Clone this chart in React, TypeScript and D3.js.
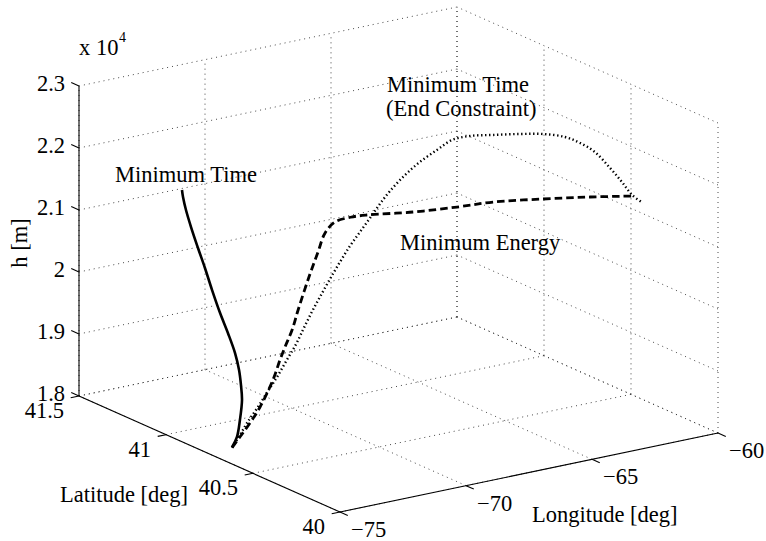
import React from "react";
import * as d3 from "d3";

// axis ticks
const lonTicks = [-75, -70, -65, -60];
const lonLabels = ["−75", "−70", "−65", "−60"];
const latTicks = [40, 40.5, 41, 41.5];
const latLabels = ["40", "40.5", "41", "41.5"];
const hTicks = [18000, 19000, 20000, 21000, 22000, 23000];
const hLabels = ["1.8", "1.9", "2", "2.1", "2.2", "2.3"];

// Minimum Time (solid)
const mtLon = [-74, -74, -74, -74, -74, -74, -74, -74, -74, -74, -74, -74, -74, -74, -74, -74];
const mtLat = [40.766, 40.737, 40.72, 40.708, 40.714, 40.725, 40.748, 40.789, 40.834, 40.88, 40.921, 40.961, 41.001, 41.03, 41.047, 41.053];
const mtH = [18000, 18206, 18501, 18838, 19073, 19301, 19546, 19819, 20084, 20397, 20702, 20975, 21263, 21501, 21689, 21795];

// Minimum Energy (dashed)
const meLon = [-74.0, -73.69, -73.29, -72.89, -72.38, -72.1, -71.9, -71.62, -71.38, -70.95, -70.59, -70.31, -69.92, -69.32, -68.82, -67.38, -66.01, -64.88, -63.32, -61.85, -60.51];
const meLat = [40.765, 40.765, 40.765, 40.765, 40.765, 40.765, 40.765, 40.765, 40.765, 40.765, 40.765, 40.765, 40.765, 40.762, 40.741, 40.684, 40.63, 40.586, 40.525, 40.467, 40.415];
const meH = [18000, 18144, 18336, 18560, 18952, 19251, 19444, 19694, 19997, 20492, 20865, 21148, 21291, 21321, 21341, 21338, 21369, 21409, 21401, 21381, 21348];

// Minimum Time (End Constraint) (dotted)
const mcLon = [-74.0, -73.74, -73.52, -73.16, -72.83, -72.54, -72.22, -71.92, -71.67, -71.41, -71.15, -70.82, -70.5, -70.17, -69.85, -69.52, -69.2, -68.87, -68.39, -67.9, -67.35, -66.86, -66.27, -65.53, -64.65, -63.9, -63.19, -62.7, -62.22, -61.73, -61.34, -61.01, -60.66];
const mcLat = [40.765, 40.757, 40.749, 40.738, 40.728, 40.718, 40.708, 40.698, 40.69, 40.682, 40.673, 40.663, 40.652, 40.642, 40.631, 40.621, 40.611, 40.6, 40.584, 40.569, 40.551, 40.535, 40.517, 40.493, 40.464, 40.44, 40.417, 40.402, 40.386, 40.37, 40.358, 40.347, 40.336];
const mcH = [18000, 18191, 18375, 18617, 18860, 19073, 19333, 19578, 19824, 20070, 20301, 20576, 20836, 21080, 21291, 21502, 21713, 21909, 22145, 22333, 22501, 22641, 22679, 22662, 22639, 22605, 22525, 22406, 22239, 21960, 21716, 21492, 21347];

const W = 766;
const H = 541;
const font = "Liberation Serif, DejaVu Serif, serif";
const fs = 22.5;

// oblique 3D view (MATLAB style)
const a = d3.scaleLinear().domain([-75, -60]).range([0, 1]);
const b = d3.scaleLinear().domain([40, 41.5]).range([0, 1]);
const c = d3.scaleLinear().domain([18000, 23000]).range([0, 1]);
const origin = [340, 512];
const uLon = [378, -79];
const uLat = [-261, -116];
const zLen = 310;

const proj = (lon: number, lat: number, h: number): [number, number] => {
  const p = a(lon), q = b(lat), r = c(h);
  return [
    origin[0] + p * uLon[0] + q * uLat[0],
    origin[1] + p * uLon[1] + q * uLat[1] - r * zLen,
  ];
};

const line = d3.line<[number, number]>().curve(d3.curveCatmullRom.alpha(0.5));

const path = (lon: number[], lat: number[], h: number[]) =>
  line(lon.map((d, i) => proj(d, lat[i], h[i]))) || "";

const unit = (v: number[]) => {
  const n = Math.hypot(v[0], v[1]);
  return [v[0] / n, v[1] / n];
};

const Txt = (props: any) => (
  <text fontFamily={font} fontSize={fs} fill="#000" {...props} />
);

export default function App() {
  const [lon0, lon1] = [-75, -60];
  const [lat0, lat1] = [40, 41.5];
  const [h0, h1] = [18000, 23000];

  const grid: [number, number][][] = [];
  // back wall lat = 41.5
  hTicks.forEach((h) => grid.push([proj(lon0, lat1, h), proj(lon1, lat1, h)]));
  lonTicks.forEach((l) => grid.push([proj(l, lat1, h0), proj(l, lat1, h1)]));
  // side wall lon = -60
  hTicks.forEach((h) => grid.push([proj(lon1, lat0, h), proj(lon1, lat1, h)]));
  latTicks.forEach((l) => grid.push([proj(lon1, l, h0), proj(lon1, l, h1)]));
  // floor
  lonTicks.forEach((l) => grid.push([proj(l, lat0, h0), proj(l, lat1, h0)]));
  latTicks.forEach((l) => grid.push([proj(lon0, l, h0), proj(lon1, l, h0)]));

  const tl = 8.5;
  const dLat = unit(uLat); // z ticks point toward +lat
  const dLonNeg = unit([-uLon[0], -uLon[1]]);
  const dLatNeg = unit([-uLat[0], -uLat[1]]);

  const zAxisA = proj(lon0, lat1, h0);
  const zAxisB = proj(lon0, lat1, h1);
  const latA = proj(lon0, lat1, h0);
  const latB = proj(lon0, lat0, h0);
  const lonA = proj(lon0, lat0, h0);
  const lonB = proj(lon1, lat0, h0);

  return (
    <svg
      width={W}
      height={H}
      style={{ position: "absolute", left: 0, top: 0, background: "#fff" }}
    >
      <rect width={W} height={H} fill="#fff" />
      {/* grid */}
      <g stroke="#333" strokeWidth={0.9} strokeDasharray="1 4" fill="none">
        {grid.map((g, i) => (
          <line key={i} x1={g[0][0]} y1={g[0][1]} x2={g[1][0]} y2={g[1][1]} />
        ))}
      </g>

      {/* axes */}
      <g stroke="#000" strokeWidth={1.1} fill="none">
        <line x1={zAxisA[0]} y1={zAxisA[1]} x2={zAxisB[0]} y2={zAxisB[1]} />
        <line x1={latA[0]} y1={latA[1]} x2={latB[0]} y2={latB[1]} />
        <line x1={lonA[0]} y1={lonA[1]} x2={lonB[0]} y2={lonB[1]} />
        {hTicks.map((h) => {
          const p = proj(lon0, lat1, h);
          return <line key={"zt" + h} x1={p[0]} y1={p[1]} x2={p[0] + dLat[0] * tl} y2={p[1] + dLat[1] * tl} />;
        })}
        {latTicks.map((l) => {
          const p = proj(lon0, l, h0);
          return <line key={"lat" + l} x1={p[0]} y1={p[1]} x2={p[0] + dLonNeg[0] * tl} y2={p[1] + dLonNeg[1] * tl} />;
        })}
        {lonTicks.map((l) => {
          const p = proj(l, lat0, h0);
          return <line key={"lon" + l} x1={p[0]} y1={p[1]} x2={p[0] + dLatNeg[0] * tl} y2={p[1] + dLatNeg[1] * tl} />;
        })}
      </g>

      {/* tick labels */}
      {hTicks.map((h, i) => {
        const p = proj(lon0, lat1, h);
        return (
          <Txt key={"zl" + h} x={p[0] - 14} y={p[1] + 5} textAnchor="end">
            {hLabels[i]}
          </Txt>
        );
      })}
      {latTicks.map((l, i) => {
        const p = proj(lon0, l, h0);
        return (
          <Txt key={"ll" + l} x={p[0] - 15} y={p[1] + 22} textAnchor="end">
            {latLabels[i]}
          </Txt>
        );
      })}
      {lonTicks.map((l, i) => {
        const p = proj(l, lat0, h0);
        return (
          <Txt key={"ol" + l} x={p[0] + 11} y={p[1] + 25} textAnchor="start">
            {lonLabels[i]}
          </Txt>
        );
      })}
      <Txt x={79} y={55}>x 10</Txt>
      <Txt x={119} y={42} fontSize={14}>4</Txt>
      <Txt transform="translate(27,243) rotate(-90)" textAnchor="middle">
        h [m]
      </Txt>
      <Txt x={60} y={502}>Latitude [deg]</Txt>
      <Txt x={532} y={522}>Longitude [deg]</Txt>

      {/* trajectories */}
      <path d={path(mcLon, mcLat, mcH)} fill="none" stroke="#000" strokeWidth={2.4} strokeDasharray="1.4 2.6" />
      <path d={path(meLon, meLat, meH)} fill="none" stroke="#000" strokeWidth={2.8} strokeDasharray="7.5 4" />
      <path d={path(mtLon, mtLat, mtH)} fill="none" stroke="#000" strokeWidth={2.6} />

      {/* curve labels */}
      <Txt x={115} y={182}>Minimum Time</Txt>
      <Txt x={387} y={92}>Minimum Time</Txt>
      <Txt x={386} y={116}>(End Constraint)</Txt>
      <Txt x={400} y={250}>Minimum Energy</Txt>
    </svg>
  );
}
